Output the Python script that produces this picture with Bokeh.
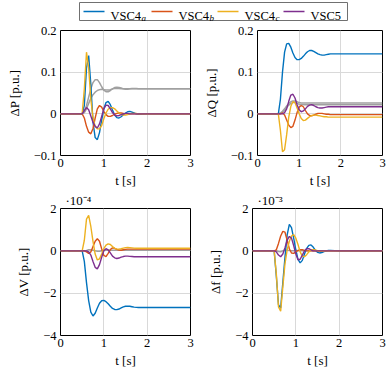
from bokeh.plotting import figure
from bokeh.layouts import column, row
from bokeh.models import Range1d, FixedTicker, Title, CustomJSTickFormatter
from bokeh.core.properties import value
from bokeh.embed import file_html
from bokeh.resources import INLINE

# ---------------- data ----------------
T = [0.0, 0.5, 0.55, 0.6, 0.65, 0.7, 0.75, 0.8, 0.85, 0.9, 0.95, 1.0, 1.05, 1.1, 1.15,
     1.2, 1.25, 1.3, 1.35, 1.4, 1.45, 1.5, 1.55, 1.6, 1.65, 1.7, 1.75, 1.8, 2.0, 2.5, 3.0]

series_names = ["VSC4", "VSC4", "VSC4", "VSC5"]
series_subs = ["a", "b", "c", ""]

# Delta P [p.u.]
dP_a = [0, 0, 0.02, 0.11, 0.14, 0.07, -0.02, -0.057, -0.062, -0.045, -0.015, 0.012, 0.027, 0.03, 0.022,
        0.009, -0.003, -0.009, -0.01, -0.007, -0.002, 0.002, 0.005, 0.006, 0.004, 0.002, 0.0, -0.001, 0, 0, 0]
dP_b = [0, 0, -0.01, -0.03, -0.044, -0.048, -0.035, -0.01, 0.012, 0.02, 0.016, 0.006, -0.002, -0.006, -0.006,
        -0.004, -0.001, 0.001, 0.002, 0.002, 0.001, 0, 0, 0, 0, 0, 0, 0, 0, 0, 0]
dP_c = [0, 0, 0.06, 0.148, 0.11, 0.035, -0.01, -0.03, -0.036, -0.036, -0.028, -0.012, 0.002, 0.011, 0.015,
        0.015, 0.012, 0.007, 0.002, -0.001, -0.003, -0.003, -0.002, 0, 0.001, 0.001, 0.001, 0, 0, 0, 0]
dP_5 = [0, 0, 0.008, 0.015, 0.01, -0.005, -0.02, -0.03, -0.034, -0.024, -0.006, 0.012, 0.021, 0.02, 0.012,
        0.003, -0.003, -0.005, -0.004, -0.002, 0, 0.001, 0.001, 0, 0, 0, 0, 0, 0, 0, 0]
dP_g1 = [0, 0, 0.005, 0.02, 0.04, 0.06, 0.075, 0.082, 0.082, 0.075, 0.065, 0.057, 0.053, 0.053, 0.056,
         0.06, 0.063, 0.064, 0.063, 0.062, 0.06, 0.059, 0.059, 0.06, 0.061, 0.061, 0.061, 0.06, 0.06, 0.06, 0.06]
dP_g2 = [0, 0, 0.003, 0.012, 0.025, 0.037, 0.046, 0.052, 0.056, 0.058, 0.059, 0.058, 0.057, 0.057, 0.058,
         0.06, 0.061, 0.061, 0.061, 0.06, 0.06, 0.06, 0.06, 0.06, 0.06, 0.06, 0.06, 0.06, 0.06, 0.06, 0.06]

# Delta Q [p.u.]
dQ_a = [0, 0, 0.035, 0.1, 0.148, 0.168, 0.169, 0.16, 0.146, 0.135, 0.13, 0.13, 0.133, 0.138, 0.144,
        0.149, 0.152, 0.152, 0.15, 0.147, 0.144, 0.142, 0.141, 0.141, 0.142, 0.143, 0.144, 0.144, 0.144, 0.144, 0.144]
dQ_b = [0, 0, 0, 0.002, -0.003, -0.015, -0.027, -0.033, -0.03, -0.015, 0.003, 0.016, 0.02, 0.017, 0.008,
        0, -0.004, -0.005, -0.003, -0.001, 0.001, 0.001, 0.001, 0, -0.001, -0.001, -0.002, -0.002, -0.002, -0.002, -0.002]
dQ_c = [0, 0, -0.04, -0.091, -0.086, -0.05, -0.008, 0.018, 0.029, 0.027, 0.014, 0, -0.011, -0.016, -0.015,
        -0.011, -0.007, -0.004, -0.003, -0.003, -0.004, -0.005, -0.006, -0.007, -0.007, -0.008, -0.008, -0.008, -0.008, -0.008, -0.008]
dQ_5 = [0, 0, 0, 0, 0.003, 0.012, 0.03, 0.045, 0.047, 0.038, 0.022, 0.01, 0.005, 0.007, 0.012,
        0.018, 0.021, 0.022, 0.02, 0.017, 0.015, 0.014, 0.014, 0.015, 0.016, 0.017, 0.017, 0.017, 0.017, 0.017, 0.017]
dQ_g1 = [0, 0, 0.002, 0.006, 0.012, 0.019, 0.025, 0.029, 0.031, 0.031, 0.029, 0.027, 0.026, 0.026, 0.026,
         0.026, 0.026, 0.026, 0.026, 0.026, 0.026, 0.026, 0.026, 0.026, 0.026, 0.026, 0.026, 0.026, 0.026, 0.026, 0.026]
dQ_g2 = [0, 0, 0.001, 0.004, 0.009, 0.015, 0.021, 0.025, 0.027, 0.027, 0.025, 0.023, 0.022, 0.022, 0.022,
         0.022, 0.022, 0.022, 0.022, 0.022, 0.022, 0.022, 0.022, 0.022, 0.022, 0.022, 0.022, 0.022, 0.022, 0.022, 0.022]

# Delta V [1e-4 p.u.]
dV_a = [0, 0, -0.5, -1.5, -2.35, -2.9, -3.08, -2.95, -2.7, -2.48, -2.36, -2.34, -2.4, -2.5, -2.62,
        -2.72, -2.77, -2.78, -2.75, -2.7, -2.65, -2.62, -2.61, -2.62, -2.64, -2.66, -2.67, -2.68, -2.68, -2.68, -2.68]
dV_b = [0, 0, 0, -0.05, -0.12, -0.05, 0.2, 0.45, 0.57, 0.45, 0.1, -0.22, -0.27, -0.12, 0.06,
        0.14, 0.12, 0.07, 0.04, 0.03, 0.05, 0.07, 0.08, 0.08, 0.08, 0.08, 0.08, 0.08, 0.08, 0.08, 0.08]
dV_c = [0, 0, 0.5, 1.5, 1.68, 1.15, 0.45, -0.15, -0.43, -0.38, -0.15, 0.1, 0.27, 0.33, 0.3,
        0.2, 0.12, 0.08, 0.08, 0.1, 0.13, 0.15, 0.16, 0.15, 0.14, 0.13, 0.12, 0.12, 0.13, 0.12, 0.12]
dV_5 = [0, 0, 0, 0, -0.05, -0.2, -0.5, -0.78, -0.85, -0.65, -0.3, 0.0, 0.1, 0.05, -0.1,
        -0.25, -0.33, -0.36, -0.34, -0.3, -0.27, -0.25, -0.25, -0.26, -0.27, -0.28, -0.28, -0.28, -0.28, -0.28, -0.28]
dV_g = [0, 0, 0, 0.02, 0.05, 0.05, 0.03, 0, -0.02, -0.02, 0, 0.02, 0.03, 0.03, 0.03,
        0.03, 0.03, 0.03, 0.03, 0.03, 0.03, 0.03, 0.03, 0.03, 0.03, 0.03, 0.03, 0.03, 0.03, 0.03, 0.03]

# Delta f [1e-3 p.u.]
df_a = [0, 0, -1.2, -2.55, -2.7, -1.5, -0.3, 0.75, 1.25, 1.1, 0.6, 0.05, -0.4, -0.57, -0.45,
        -0.15, 0.12, 0.26, 0.28, 0.18, 0.03, -0.07, -0.1, -0.08, -0.04, 0, 0.02, 0.02, 0, 0, 0]
df_b = [0, 0, 0.05, 0.35, 0.7, 0.92, 0.88, 0.5, 0.1, -0.1, -0.12, -0.05, 0.02, 0.05, 0.05,
        0.02, 0, 0, 0, 0, 0, 0, 0, 0, 0, 0, 0, 0, 0, 0, 0]
df_c = [0, 0, -1.1, -2.65, -2.85, -1.7, -0.6, 0.05, 0.45, 0.7, 0.77, 0.6, 0.3, -0.05, -0.25,
        -0.28, -0.18, -0.05, 0.04, 0.06, 0.04, 0.01, -0.02, -0.02, -0.01, 0, 0, 0, 0, 0, 0]
df_5 = [0, 0, -0.05, -0.2, -0.28, -0.15, 0.15, 0.5, 0.68, 0.6, 0.25, -0.15, -0.42, -0.4, -0.2,
        0, 0.1, 0.1, 0.05, 0, 0, 0, 0, 0, 0, 0, 0, 0, 0, 0, 0]
df_g = [0, 0, 0, -0.03, -0.04, 0, 0.03, 0.03, 0.01, 0, 0, 0, 0, 0, 0,
        0, 0, 0, 0, 0, 0, 0, 0, 0, 0, 0, 0, 0, 0, 0, 0]

X_TICKS = [0, 1, 2, 3]
TOP_YTICKS = [-0.1, 0, 0.1, 0.2]
BOT_YTICKS = [-4, -2, 0, 2]
V_SCALE = "·10⁻⁴"
F_SCALE = "·10⁻³"

# ---------------- style ----------------
COLORS = ["#0072BD", "#D95319", "#EDB120", "#7E2F8E"]
GREY = "#a0a0a0"
FONT = "Liberation Serif"
FS = "12.5px"
LW = 1.4

fmt = CustomJSTickFormatter(code="""
    if (Math.abs(tick) < 1e-12) return "0";
    const s = String(Math.round(tick * 1000) / 1000);
    return tick < 0 ? "\u2212" + s.slice(1) : s;
""")


def make_fig(yr, yticks, ylabel, grey, cols, bl, br, bt, bb, fh, scale=None):
    p = figure(width=bl + 130 + br, height=bt + fh + bb,
               x_range=Range1d(0, 3), y_range=Range1d(*yr),
               output_backend="svg", toolbar_location=None, title=None,
               min_border_left=bl, min_border_right=br,
               min_border_top=bt, min_border_bottom=bb)
    if scale:
        p.add_layout(Title(text=scale, align="left", offset=5, standoff=1,
                           text_font=FONT, text_font_size="13px",
                           text_font_style="normal", text_color="black"), "above")
    p.background_fill_color = "white"
    p.border_fill_color = "white"
    p.outline_line_color = "black"
    p.outline_line_width = 1
    p.xaxis.ticker = FixedTicker(ticks=X_TICKS)
    p.yaxis.ticker = FixedTicker(ticks=yticks)
    p.yaxis.formatter = fmt
    for ax in (p.xaxis[0], p.yaxis[0]):
        ax.axis_line_color = None
        ax.major_tick_line_color = None
        ax.minor_tick_line_color = None
        ax.major_tick_out = 0
        ax.major_tick_in = 0
        ax.minor_tick_out = 0
        ax.minor_tick_in = 0
        ax.major_label_text_font = FONT
        ax.major_label_text_font_size = FS
        ax.major_label_text_color = "black"
        ax.axis_label_text_font = FONT
        ax.axis_label_text_font_size = "13px"
        ax.axis_label_text_font_style = "normal"
        ax.axis_label_text_color = "black"
    p.xaxis.major_label_standoff = 3
    p.xaxis.axis_label_standoff = 3
    p.yaxis.major_label_standoff = 4
    p.yaxis.axis_label_standoff = 9
    p.xaxis.axis_label = "t [s]"
    p.yaxis.axis_label = ylabel
    p.xgrid.grid_line_color = "#d9d9d9"
    p.ygrid.grid_line_color = "#d9d9d9"
    p.xgrid.ticker = FixedTicker(ticks=X_TICKS)
    p.ygrid.ticker = FixedTicker(ticks=yticks)
    for g in grey:
        p.line(T, g, line_color=GREY, line_width=1.5)
    for ys, c in zip(cols, COLORS):
        p.line(T, ys, line_color=c, line_width=LW)
    return p


# page has no margin: frames at x 60..190 / 252..382, y 30..155 / 208..335
p1 = make_fig((-0.1, 0.2), TOP_YTICKS, "ΔP [p.u.]", [dP_g1, dP_g2], [dP_a, dP_b, dP_c, dP_5], 60, 10, 8, 35, 125)
p2 = make_fig((-0.1, 0.2), TOP_YTICKS, "ΔQ [p.u.]", [dQ_g1, dQ_g2], [dQ_a, dQ_b, dQ_c, dQ_5], 52, 8, 8, 35, 125)
p3 = make_fig((-4, 2), BOT_YTICKS, "ΔV [p.u.]", [dV_g], [dV_a, dV_b, dV_c, dV_5], 60, 10, 18, 35, 127, V_SCALE)
p4 = make_fig((-4, 2), BOT_YTICKS, "Δf [p.u.]", [df_g], [df_a, df_b, df_c, df_5], 52, 8, 18, 35, 127, F_SCALE)

# ---------------- legend ----------------
leg = figure(width=390, height=22, x_range=Range1d(0, 390), y_range=Range1d(0, 22),
             output_backend="svg", toolbar_location=None, min_border=0, title=None,
             x_axis_type=None, y_axis_type=None)
leg.outline_line_color = None
leg.xgrid.visible = False
leg.ygrid.visible = False
leg.quad(left=[79], right=[347], bottom=[2], top=[20], fill_color="white",
         line_color="#707070", line_width=1)
line_x = [83, 151, 217, 283]
for xs, nm, sb, c in zip(line_x, series_names, series_subs, COLORS):
    leg.segment(x0=[xs], y0=[11], x1=[xs + 21], y1=[11], line_color=c, line_width=LW)
    leg.text(x=[xs + 27], y=[7], text=[nm], text_font=value(FONT), text_font_size=FS,
             text_baseline="alphabetic", text_align="left", text_color="black")
    if sb:
        leg.text(x=[xs + 58], y=[4.5], text=[sb], text_font=value(FONT), text_font_size="9px",
                 text_font_style="italic", text_baseline="alphabetic", text_align="left",
                 text_color="black")

layout = column(leg, row(p1, p2), row(p3, p4))
open("out.html", "w").write(file_html(layout, INLINE))
